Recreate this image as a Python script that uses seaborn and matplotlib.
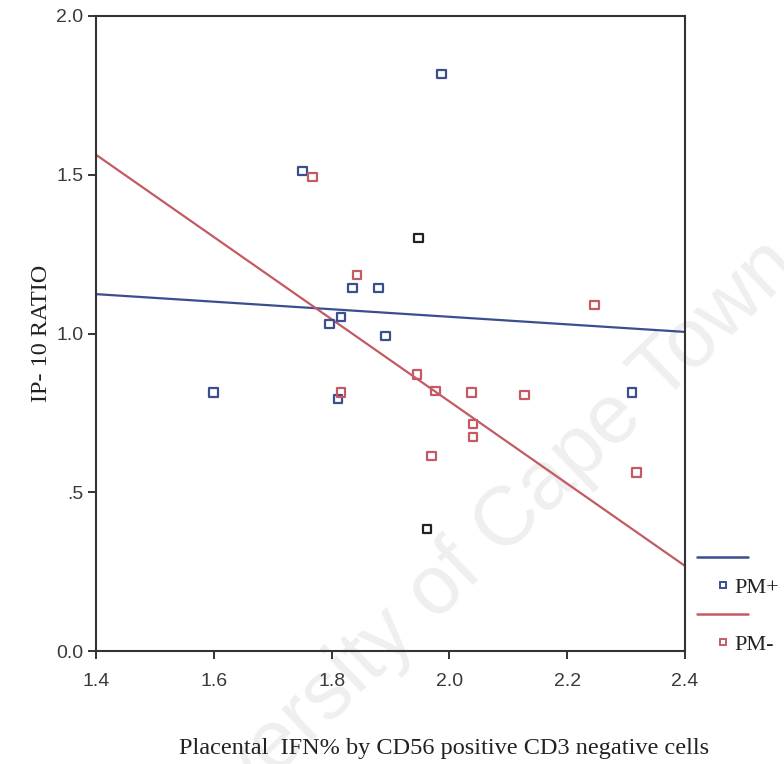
import matplotlib
matplotlib.use("Agg")
import matplotlib.pyplot as plt
import seaborn as sns
import pandas as pd
from matplotlib.lines import Line2D

# ---- data ----
pm_plus_x = [1.986, 1.750, 1.836, 1.880, 1.797, 1.816, 1.892, 1.599, 1.811, 2.310]
pm_plus_y = [1.817, 1.512, 1.143, 1.143, 1.030, 1.052, 0.992, 0.813, 0.794, 0.813]

pm_minus_x = [1.767, 1.843, 1.816, 1.945, 1.977, 2.038, 2.040, 2.040, 1.969, 2.128, 2.247, 2.317]
pm_minus_y = [1.493, 1.184, 0.813, 0.872, 0.819, 0.813, 0.715, 0.674, 0.614, 0.806, 1.090, 0.561]

dark_x = [1.948, 1.962]
dark_y = [1.301, 0.384]

fit_x = [1.4, 2.4]
pm_plus_fit = [1.124, 1.005]
pm_minus_fit = [1.563, 0.268]

x_ticks = [1.4, 1.6, 1.8, 2.0, 2.2, 2.4]
x_tick_labels = ["1.4", "1.6", "1.8", "2.0", "2.2", "2.4"]
y_ticks = [0.0, 0.5, 1.0, 1.5, 2.0]
y_tick_labels = ["0.0", ".5", "1.0", "1.5", "2.0"]
groups = ["PM+", "PM-"]

# ---- styling ----
sns.set_theme(style="white")
plt.rcParams["font.family"] = ["Liberation Serif", "DejaVu Serif"]

blue = "#3b4e8e"
red = "#c45a64"
palette = {"PM+": blue, "PM-": red}

pts = pd.DataFrame({
    "x": pm_plus_x + pm_minus_x,
    "y": pm_plus_y + pm_minus_y,
    "group": [groups[0]] * len(pm_plus_x) + [groups[1]] * len(pm_minus_x),
})
fits = pd.DataFrame({
    "x": fit_x + fit_x,
    "y": pm_plus_fit + pm_minus_fit,
    "group": [groups[0]] * 2 + [groups[1]] * 2,
})
dark = pd.DataFrame({"x": dark_x, "y": dark_y})

fig = plt.figure(figsize=(7.84, 7.64), dpi=100)
ax = fig.add_axes([96 / 784, 1 - 651 / 764, (685 - 96) / 784, (651 - 16) / 764])
ax.set_facecolor("none")

# watermark
fig.text(0.59, 0.26, "University of Cape Town", rotation=44, fontsize=60,
         color="#efefef", ha="center", va="center", zorder=-5,
         family=["Liberation Sans", "DejaVu Sans"])

sns.lineplot(data=fits, x="x", y="y", hue="group", palette=palette,
             linewidth=1.6, ax=ax, legend=False, zorder=2)
sns.scatterplot(data=pts, x="x", y="y", hue="group", palette=palette,
                marker="s", s=40, ax=ax, legend=False,
                linewidth=1.6, zorder=3)
for coll in ax.collections:
    fc = coll.get_facecolors()
    coll.set_edgecolors(fc)
    coll.set_facecolors("none")
sns.scatterplot(data=dark, x="x", y="y", marker="s", s=40, ax=ax,
                color="#222222", linewidth=1.6, legend=False, zorder=3)
ax.collections[-1].set_facecolors("none")
ax.collections[-1].set_edgecolors("#222222")

ax.set_xlim(1.4, 2.4)
ax.set_ylim(0.0, 2.0)
ax.set_xticks(x_ticks)
ax.set_xticklabels(x_tick_labels)
ax.set_yticks(y_ticks)
ax.set_yticklabels(y_tick_labels)
ax.tick_params(axis="both", which="both", direction="out", length=6, width=1.4,
               colors="#333333", labelsize=14, labelcolor="#3a3a3a",
               bottom=True, left=True, top=False, right=False)
ax.tick_params(axis="x", pad=10)
ax.tick_params(axis="y", pad=3)
for lab in ax.get_xticklabels() + ax.get_yticklabels():
    lab.set_family(["Liberation Sans", "DejaVu Sans"])
for sp in ax.spines.values():
    sp.set_visible(True)
    sp.set_color("#333333")
    sp.set_linewidth(1.5)

ax.set_xlabel("Placental  IFN% by CD56 positive CD3 negative cells",
              fontsize=17.5, color="#222222")
ax.xaxis.set_label_coords(0.591, -0.137)
ax.set_ylabel("IP- 10 RATIO", fontsize=17.5, color="#222222", labelpad=3)

handles = [
    Line2D([], [], color=blue, linewidth=1.8),
    Line2D([], [], color=blue, marker="s", linestyle="none",
           markerfacecolor="none", markeredgewidth=1.4, markersize=5),
    Line2D([], [], color=red, linewidth=1.8),
    Line2D([], [], color=red, marker="s", linestyle="none",
           markerfacecolor="none", markeredgewidth=1.4, markersize=5),
]
labels = ["", groups[0], "", groups[1]]
leg = fig.legend(handles, labels, loc="upper left",
                 bbox_to_anchor=(697 / 784, 1 - 549 / 764),
                 frameon=False, fontsize=16, handlelength=2.3,
                 labelspacing=0.36, handletextpad=-0.6, borderpad=0,
                 borderaxespad=0)
for t in leg.get_texts():
    t.set_color("#222222")

fig.savefig("out.png", dpi=100)
